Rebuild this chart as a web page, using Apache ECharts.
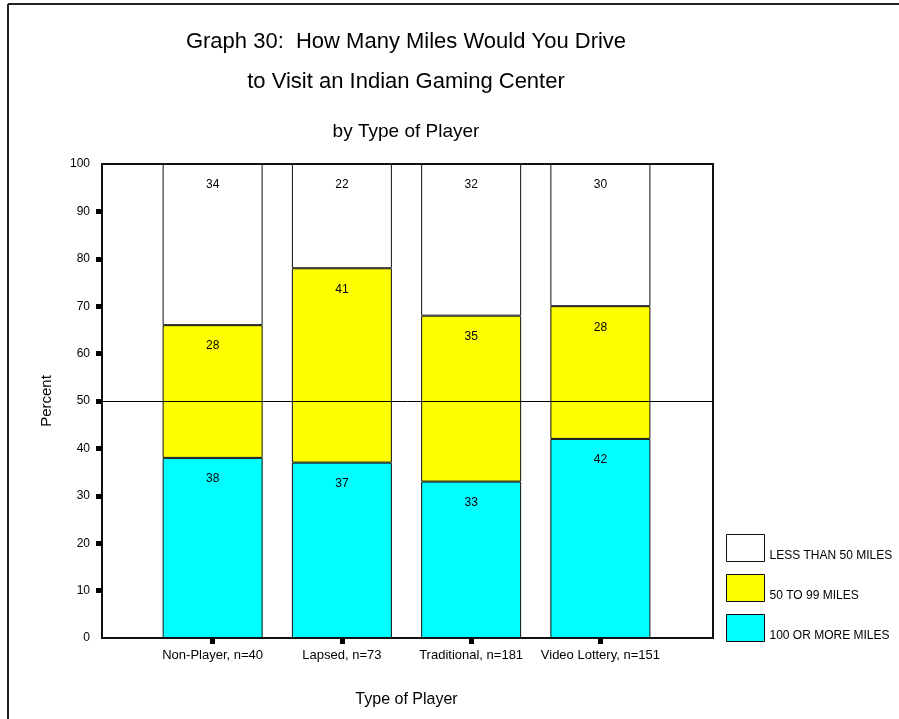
<!DOCTYPE html>
<html>
<head>
<meta charset="utf-8">
<script src="https://cdn.jsdelivr.net/npm/echarts@6/dist/echarts.min.js"></script>
<style>
  html, body { margin: 0; padding: 0; background: #fff; }
  #chart { width: 899px; height: 719px; }
</style>
</head>
<body>
<div id="chart"></div>
<script>
// Survey answers by type of player (percent of respondents)
const categories = ['Non-Player, n=40', 'Lapsed, n=73', 'Traditional, n=181', 'Video Lottery, n=151'];
const milesOver100 = [38, 37, 33, 42];
const miles50to99 = [28, 41, 35, 28];
const milesUnder50 = [34, 22, 32, 30];
const yTicks = [0, 10, 20, 30, 40, 50, 60, 70, 80, 90, 100];
const yTickMarks = [10, 20, 30, 40, 50, 60, 70, 80, 90];
const referenceLine = 50;

const seriesNames = ['LESS THAN 50 MILES', '50 TO 99 MILES', '100 OR MORE MILES'];
const FONT = "Arial, 'Liberation Sans', sans-serif";

const chart = echarts.init(document.getElementById('chart'), null, { renderer: 'canvas' });

function stackSeries(name, values, color) {
  return {
    name: name,
    type: 'bar',
    stack: 'total',
    xAxisIndex: 0,
    yAxisIndex: 0,
    barWidth: 100,
    data: values,
    itemStyle: { color: color, borderColor: '#111', borderWidth: 1 },
    label: {
      show: true,
      position: 'insideTop',
      distance: 15,
      fontFamily: FONT,
      fontSize: 12,
      color: '#000'
    },
    emphasis: { disabled: true },
    animation: false
  };
}

const option = {
  backgroundColor: '#fff',
  animation: false,
  title: [
    { text: 'Graph 30:  How Many Miles Would You Drive', left: 406, top: 31, textAlign: 'center', padding: 0,
      textStyle: { fontFamily: FONT, fontSize: 22, fontWeight: 'normal', color: '#000' } },
    { text: 'to Visit an Indian Gaming Center', left: 406, top: 71, textAlign: 'center', padding: 0,
      textStyle: { fontFamily: FONT, fontSize: 22, fontWeight: 'normal', color: '#000' } },
    { text: 'by Type of Player', left: 406, top: 122, textAlign: 'center', padding: 0,
      textStyle: { fontFamily: FONT, fontSize: 19, fontWeight: 'normal', color: '#000' } }
  ],
  legend: {
    orient: 'vertical',
    left: 726,
    top: 534,
    padding: 0,
    itemWidth: 38,
    itemHeight: 27,
    itemGap: 12,
    icon: 'rect',
    selectedMode: false,
    data: seriesNames,
    itemStyle: { borderColor: '#111', borderWidth: 1 },
    formatter: '{t|{name}}',
    textStyle: {
      fontFamily: FONT, fontSize: 12, color: '#000',
      rich: { t: { fontFamily: FONT, fontSize: 12, color: '#000', padding: [16, 0, 0, 0] } }
    }
  },
  grid: [
    // band area holding the bars
    { left: 148, top: 164, width: 517, height: 474, show: false },
    // full plotting frame
    { left: 102, top: 164, width: 611, height: 474, show: true, borderColor: '#111', borderWidth: 2, backgroundColor: 'transparent' }
  ],
  xAxis: [
    {
      type: 'category',
      gridIndex: 0,
      data: categories,
      axisLine: { show: false },
      axisTick: { show: true, interval: 0, alignWithLabel: true, length: 6, lineStyle: { color: '#000', width: 5 } },
      axisLabel: { interval: 0, fontFamily: FONT, fontSize: 13, color: '#000', margin: 11 },
      name: 'Type of Player',
      nameLocation: 'middle',
      nameGap: 54,
      nameTextStyle: { fontFamily: FONT, fontSize: 16, color: '#000' }
    },
    {
      type: 'value',
      gridIndex: 1,
      min: 0,
      max: 1,
      show: false
    }
  ],
  yAxis: [
    {
      type: 'value',
      gridIndex: 0,
      min: 0,
      max: 100,
      interval: 10,
      show: false
    },
    {
      type: 'value',
      gridIndex: 1,
      min: yTicks[0],
      max: yTicks[yTicks.length - 1],
      interval: 10,
      axisLine: { show: false },
      splitLine: { show: false },
      axisTick: { show: true, customValues: yTickMarks, length: 6, lineStyle: { color: '#000', width: 5 } },
      axisLabel: { fontFamily: FONT, fontSize: 12, color: '#000', margin: 12, customValues: yTicks },
      name: 'Percent',
      nameLocation: 'middle',
      nameRotate: 90,
      nameGap: 48,
      nameTextStyle: { fontFamily: FONT, fontSize: 15, color: '#000' }
    }
  ],
  series: [
    stackSeries('100 OR MORE MILES', milesOver100, '#00FFFF'),
    stackSeries('50 TO 99 MILES', miles50to99, '#FFFF00'),
    stackSeries('LESS THAN 50 MILES', milesUnder50, '#FFFFFF'),
    {
      name: 'reference',
      type: 'line',
      xAxisIndex: 1,
      yAxisIndex: 1,
      data: [],
      z: 10,
      markLine: {
        silent: true,
        symbol: 'none',
        label: { show: false },
        lineStyle: { color: '#000', type: 'solid', width: 1 },
        data: [{ yAxis: referenceLine }]
      }
    }
  ],
  graphic: [
    { type: 'line', shape: { x1: 8, y1: 4, x2: 8, y2: 719 }, style: { stroke: '#222', lineWidth: 2 } },
    { type: 'line', shape: { x1: 8, y1: 4, x2: 899, y2: 4 }, style: { stroke: '#222', lineWidth: 2 } }
  ]
};

chart.setOption(option);
</script>
</body>
</html>
